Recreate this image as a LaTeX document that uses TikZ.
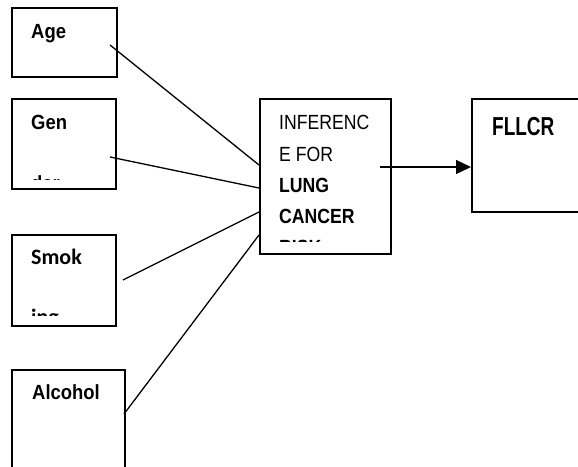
\documentclass[tikz,border=0pt]{standalone}
\usepackage{fontspec}
\setmainfont{Liberation Sans}
\newfontfamily\labfont[FakeStretch=0.9]{Liberation Sans}
\newfontfamily\inffont[FakeStretch=0.86]{Liberation Sans}
\newfontfamily\bigfont[FakeStretch=0.73]{Liberation Sans}
\newfontfamily\calfont{Carlito}
\usetikzlibrary{arrows.meta}
\begin{document}
\begin{tikzpicture}[x=1pt,y=-1pt,
  box/.style={draw, line width=1.5pt, inner sep=0pt, anchor=north west},
  txt/.style={anchor=base west, inner sep=0pt},
  lab/.style={txt, font=\labfont\bfseries\fontsize{20.5}{24}\selectfont},
  inf/.style={txt, font=\inffont\fontsize{20.5}{24}\selectfont},
  infb/.style={txt, font=\inffont\bfseries\fontsize{20.5}{24}\selectfont},
  link/.style={line width=1.3pt}]
\clip (0,0) rectangle (578,466);
\fill[white] (0,0) rectangle (578,466);

% boxes
\node[box, minimum width=105pt, minimum height=69pt] (age) at (11,7) {};
\node[box, minimum width=104pt, minimum height=90pt] (gender) at (11,98) {};
\node[box, minimum width=104pt, minimum height=91pt] (smoking) at (11,234) {};
\node[box, minimum width=113pt, minimum height=120pt] (alcohol) at (11,369) {};
\node[box, minimum width=131pt, minimum height=155pt] (infer) at (259,98) {};
\node[box, minimum width=130pt, minimum height=113pt] (fllcr) at (471,98) {};

% texts
\node[lab] (agetxt) at (31,38) {Age};
\begin{scope}
  \clip (11,98) rectangle (115,179);
  \node[lab] (gentxt1) at (31,129) {Gen};
  \node[lab] (gentxt2) at (31,190) {der};
\end{scope}
\begin{scope}
  \clip (11,234) rectangle (115,315);
  \node[txt, font=\calfont\bfseries\fontsize{22}{26}\selectfont] (smtxt1) at (31,264) {Smok};
  \node[txt, font=\calfont\bfseries\fontsize{22}{26}\selectfont] (smtxt2) at (31,324) {ing};
\end{scope}
\node[lab] (alctxt) at (32,399) {Alcohol};
\begin{scope}
  \clip (259,98) rectangle (390,241);
  \node[inf] (in1) at (279,129) {INFERENC};
  \node[inf] (in2) at (279,161) {E FOR};
  \node[infb] (in3) at (279,192) {LUNG};
  \node[infb] (in4) at (279,223) {CANCER};
  \node[infb] (in5) at (279,254) {RISK};
\end{scope}
\node[txt, font=\bigfont\bfseries\fontsize{26}{30}\selectfont] (flltxt) at (492,135) {FLLCR};

% connector end points
\coordinate (sa) at (110,45);
\coordinate (sg) at (110,157);
\coordinate (ss) at (123,280);
\coordinate (sc) at (124,414);
\coordinate (ea) at (259,165);
\coordinate (eg) at (259,188);
\coordinate (es) at (259,212);
\coordinate (ec) at (259,235);
\coordinate (ar) at (380,167);

\draw[link] (sa) -- (ea);
\draw[link] (sg) -- (eg);
\draw[link] (ss) -- (es);
\draw[link] (sc) -- (ec);
\draw[link, -{Triangle[length=15pt,width=14pt]}] (ar) -- (fllcr.west |- ar);
\end{tikzpicture}
\end{document}
